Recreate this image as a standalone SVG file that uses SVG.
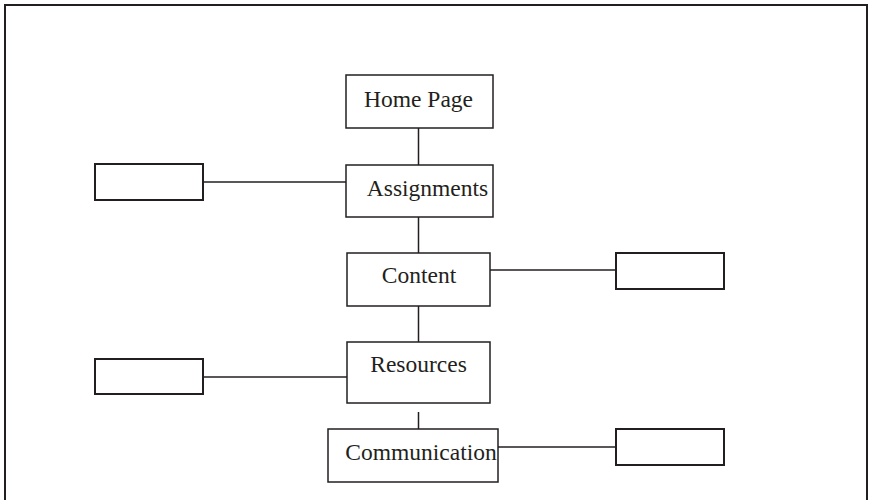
<svg xmlns="http://www.w3.org/2000/svg" width="870" height="500" viewBox="0 0 870 500">
<style>
.box{fill:#fff;stroke:#231f20;stroke-width:1.5}
.sbox{fill:#fff;stroke:#231f20;stroke-width:2}
.ln{stroke:#231f20;stroke-width:1.5;fill:none}
.lbl{font-family:"Liberation Serif",serif;font-size:23.5px;fill:#231f20;text-anchor:middle}
</style>
<rect x="5" y="5" width="862" height="510" fill="none" stroke="#231f20" stroke-width="2"/>
<g id="connectors">
<line class="ln" x1="418.5" y1="128" x2="418.5" y2="165"/>
<line class="ln" x1="418.5" y1="217" x2="418.5" y2="253"/>
<line class="ln" x1="418.5" y1="306" x2="418.5" y2="342"/>
<line class="ln" x1="418.5" y1="412" x2="418.5" y2="429"/>
<line class="ln" x1="203" y1="182" x2="346" y2="182"/>
<line class="ln" x1="490" y1="270" x2="616" y2="270"/>
<line class="ln" x1="203" y1="377" x2="347" y2="377"/>
<line class="ln" x1="498" y1="447" x2="616" y2="447"/>
</g>
<g id="home"><rect class="box" x="346" y="75" width="147" height="53"/><text class="lbl" x="418.5" y="107">Home Page</text></g>
<g id="assignments"><rect class="box" x="346" y="165" width="147" height="52"/><text class="lbl" x="427.5" y="196">Assignments</text></g>
<g id="content"><rect class="box" x="347" y="253" width="143" height="53"/><text class="lbl" x="419" y="283">Content</text></g>
<g id="resources"><rect class="box" x="347" y="342" width="143" height="61"/><text class="lbl" x="418.5" y="372">Resources</text></g>
<g id="communication"><rect class="box" x="328" y="429" width="170" height="53"/><text class="lbl" x="421" y="460">Communication</text></g>
<g id="left1"><rect class="sbox" x="95" y="164" width="108" height="36"/></g>
<g id="right1"><rect class="sbox" x="616" y="253" width="108" height="36"/></g>
<g id="left2"><rect class="sbox" x="95" y="359" width="108" height="35"/></g>
<g id="right2"><rect class="sbox" x="616" y="429" width="108" height="36"/></g>
</svg>
